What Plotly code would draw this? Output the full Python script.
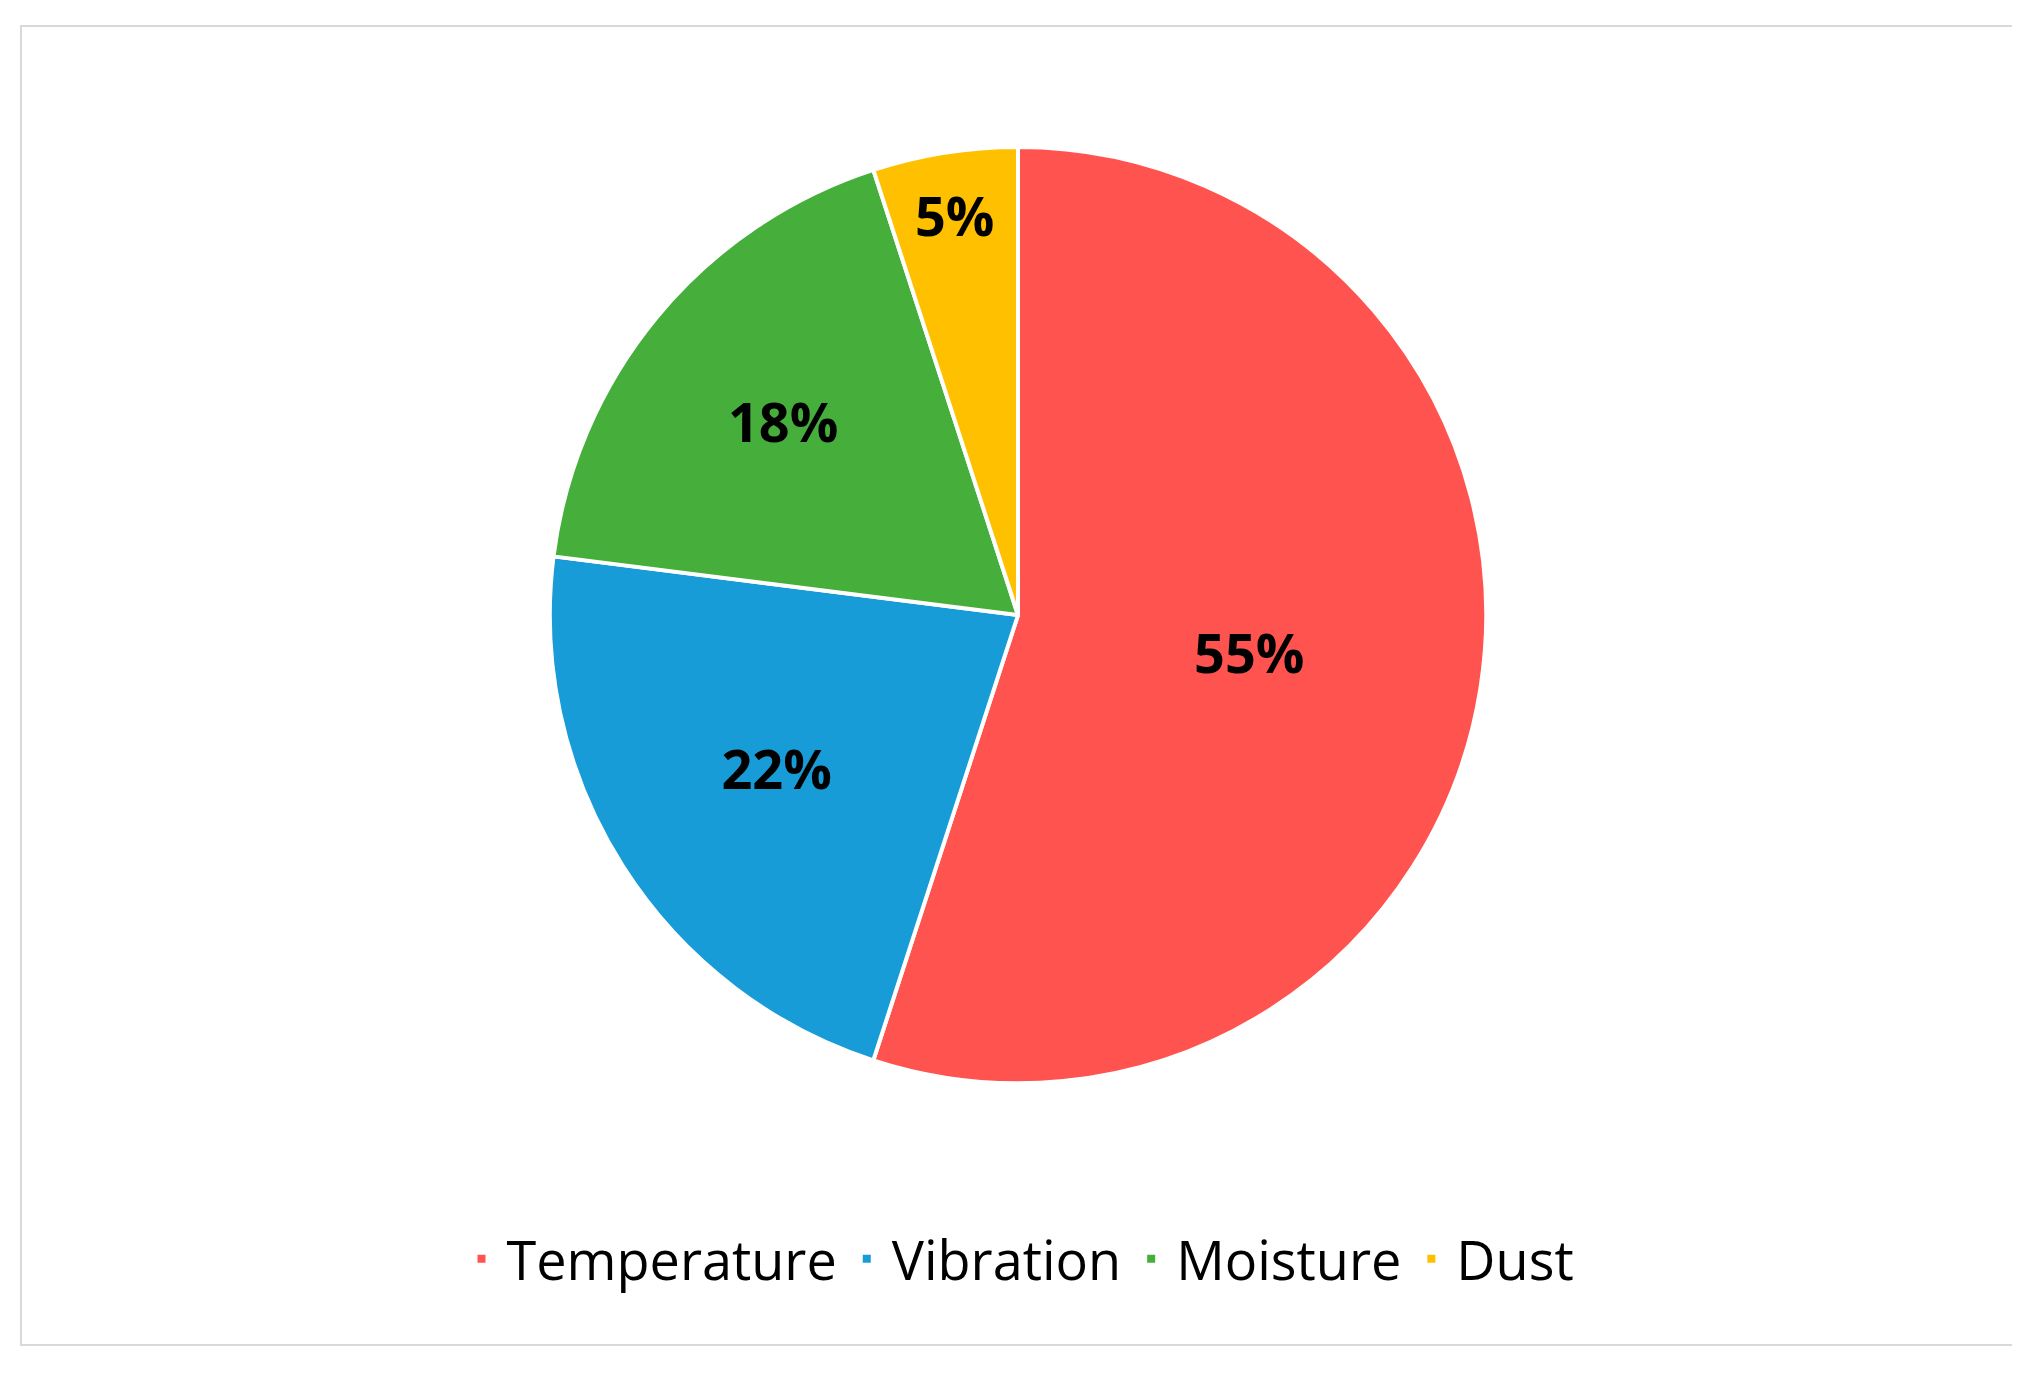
import plotly.graph_objects as go

labels = ["Temperature", "Vibration", "Moisture", "Dust"]
values = [55, 22, 18, 5]
colors = ["#FF5350", "#189CD8", "#46AF3C", "#FFC000"]

fig = go.Figure()
fig.add_trace(go.Pie(
    labels=labels,
    values=values,
    sort=False,
    direction="clockwise",
    rotation=0,
    marker=dict(colors=colors, line=dict(color="white", width=4)),
    textinfo="percent",
    texttemplate="<b>%{percent:.0%}</b>",
    textposition="inside",
    insidetextorientation="horizontal",
    textfont=dict(size=54, color="black"),
    domain=dict(x=[0, 1], y=[0.218, 0.899]),
))
fig.update_layout(
    width=2020, height=1375,
    margin=dict(l=0, r=0, t=0, b=0),
    paper_bgcolor="white",
    font=dict(family="Open Sans", color="black"),
    legend=dict(orientation="h", x=0.5, xanchor="center", y=0.09, yanchor="middle",
                font=dict(size=54), itemwidth=40),
    shapes=[dict(type="rect", xref="paper", yref="paper",
                 x0=13/2020, x1=2007/2020, y0=1-1337/1375, y1=1-18/1375,
                 line=dict(color="#D9D9D9", width=2))],
)
fig.write_html("out.html")
